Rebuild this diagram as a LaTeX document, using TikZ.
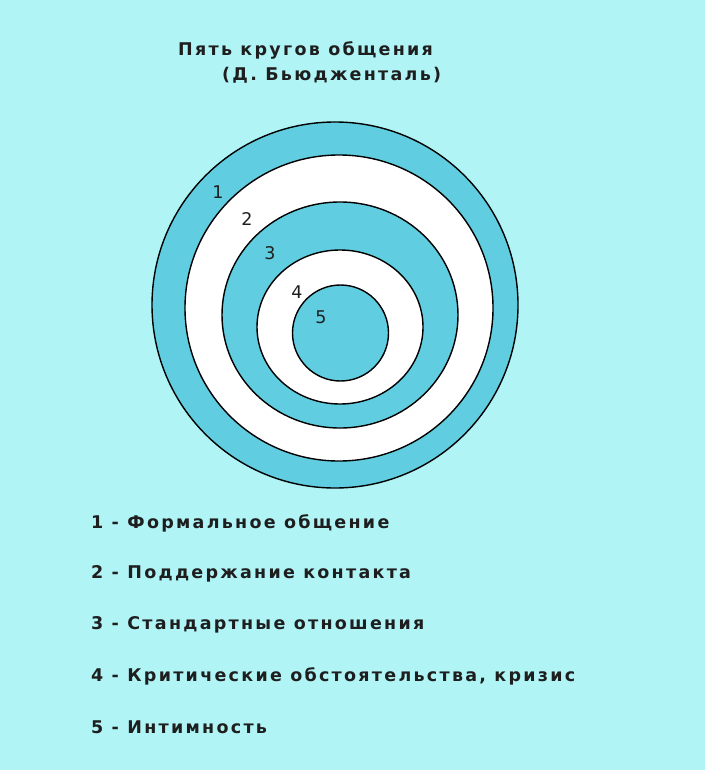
\documentclass[tikz,border=0pt]{standalone}
\usepackage{fontspec}
\setmainfont{DejaVu Sans}
\newfontfamily\spacedfont[LetterSpace=13]{DejaVu Sans}
\definecolor{bgcyan}{RGB}{176,244,246}
\definecolor{ringcyan}{RGB}{96,206,224}
\definecolor{inkgrey}{RGB}{30,30,30}
\tikzset{
  ring/.style={draw=black, line width=1.4pt},
  ringnum/.style={font=\fontsize{17.5}{20}\selectfont, text=inkgrey, inner sep=0pt},
  legendline/.style={anchor=west, inner sep=0pt, text=inkgrey, font=\spacedfont\bfseries\fontsize{17.5}{20}\selectfont},
  heading/.style={anchor=west, inner sep=0pt, text=inkgrey, font=\spacedfont\bfseries\fontsize{17.5}{20}\selectfont}
}
\begin{document}
\begin{tikzpicture}[x=1pt,y=-1pt]
    % Background
    \fill[bgcyan] (0,0) rectangle (705,770);
    \useasboundingbox (0,0) rectangle (705,770);

    % Title
    \node[heading] (title) at (178,50) {Пять кругов общения};
    \node[heading] (author) at (222,75) {(Д. Бьюдженталь)};

    % Rings, from outer to inner
    \foreach \cx/\cy/\rx/\ry/\col in {335/305/183/183/ringcyan, 339/308/154/153/white, 340/315/118/113/ringcyan, 340/327/83/77/white, 340.5/333/48/48/ringcyan} {
        \draw[ring, fill=\col] (\cx,\cy) ellipse[x radius=\rx, y radius=\ry];
    }

    % Ring numbers
    \foreach \x/\y [count=\i] in {218/192, 247/219, 270/253, 297/292, 321/317} {
        \node[ringnum] (num\i) at (\x,\y) {\i};
    }

    % Legend
    \foreach \txt [count=\i] in {Формальное общение, Поддержание контакта, Стандартные отношения, {Критические обстоятельства, кризис}, Интимность} {
        \node[legendline] (item\i) at (91,{523+51*(\i-1)}) {\i\ - \txt};
    }
\end{tikzpicture}
\end{document}
